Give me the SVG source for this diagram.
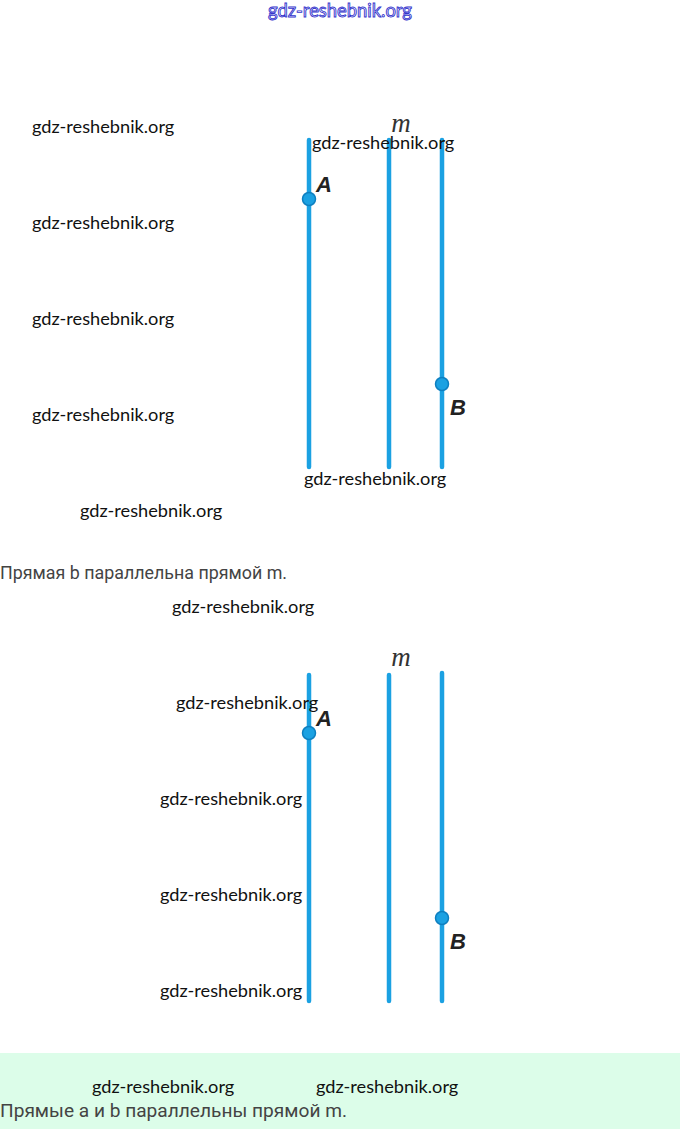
<svg xmlns="http://www.w3.org/2000/svg" width="680" height="1129" viewBox="0 0 680 1129">
<style>
.ln{stroke:#1ba1e2;stroke-width:4.5;stroke-linecap:round;fill:none}
.pt{fill:#1ba1e2;stroke:#0d7fc0;stroke-width:1.5}
.wm{font-family:Lato,"Open Sans",sans-serif;font-size:18.2px;fill:#111}
.lbl{font-family:"Liberation Sans",Arial,sans-serif;font-style:italic;font-weight:bold;font-size:22px;fill:#222}
.m{font-family:"Liberation Serif","Times New Roman",serif;font-style:italic;font-size:27px;fill:#333}
.cap{font-family:Roboto,"Noto Sans",sans-serif;font-size:17.8px;fill:#444}
.hdr{font-family:Lato,"Open Sans",sans-serif;font-size:18.4px;fill:#fff;stroke:#3333cc;stroke-width:0.9}
</style>
<rect width="680" height="1129" fill="#fff"/>
<rect x="0" y="1053" width="680" height="76" fill="#dcfde9"/>
<text class="hdr" x="340" y="17" text-anchor="middle">gdz-reshebnik.org</text>

<g id="connectors">
<line class="ln" x1="309" y1="140" x2="309" y2="467"/>
<line class="ln" x1="389" y1="140" x2="389" y2="467"/>
<line class="ln" x1="442" y1="140" x2="442" y2="467"/>
<line class="ln" x1="309" y1="675" x2="309" y2="1001"/>
<line class="ln" x1="389" y1="675" x2="389" y2="1001"/>
<line class="ln" x1="442" y1="673" x2="442" y2="1001"/>
</g>

<g id="fig1">
<g id="A1"><circle class="pt" cx="309" cy="199" r="6.5"/><text class="lbl" x="316" y="192">A</text></g>
<g id="m1"><text class="m" x="401" y="132" text-anchor="middle">m</text></g>
<g id="B1"><circle class="pt" cx="442" cy="384" r="6.5"/><text class="lbl" x="450" y="415">B</text></g>
</g>
<g id="fig2">
<g id="A2"><circle class="pt" cx="309" cy="733" r="6.5"/><text class="lbl" x="316" y="726">A</text></g>
<g id="m2"><text class="m" x="401" y="666" text-anchor="middle">m</text></g>
<g id="B2"><circle class="pt" cx="442" cy="918" r="6.5"/><text class="lbl" x="450" y="949">B</text></g>
</g>

<g id="captions">
<text class="cap" x="0" y="579" textLength="287" lengthAdjust="spacingAndGlyphs">Прямая b параллельна прямой m.</text>
<text class="cap" x="0" y="1117" textLength="347" lengthAdjust="spacingAndGlyphs">Прямые a и b параллельны прямой m.</text>
</g>

<g id="watermarks">
<text class="wm" x="32" y="133">gdz-reshebnik.org</text>
<text class="wm" x="312" y="149">gdz-reshebnik.org</text>
<text class="wm" x="32" y="229">gdz-reshebnik.org</text>
<text class="wm" x="32" y="325">gdz-reshebnik.org</text>
<text class="wm" x="32" y="421">gdz-reshebnik.org</text>
<text class="wm" x="304" y="485">gdz-reshebnik.org</text>
<text class="wm" x="80" y="517">gdz-reshebnik.org</text>
<text class="wm" x="172" y="613">gdz-reshebnik.org</text>
<text class="wm" x="176" y="709">gdz-reshebnik.org</text>
<text class="wm" x="160" y="805">gdz-reshebnik.org</text>
<text class="wm" x="160" y="901">gdz-reshebnik.org</text>
<text class="wm" x="160" y="997">gdz-reshebnik.org</text>
<text class="wm" x="92" y="1093">gdz-reshebnik.org</text>
<text class="wm" x="316" y="1093">gdz-reshebnik.org</text>
</g>
</svg>
